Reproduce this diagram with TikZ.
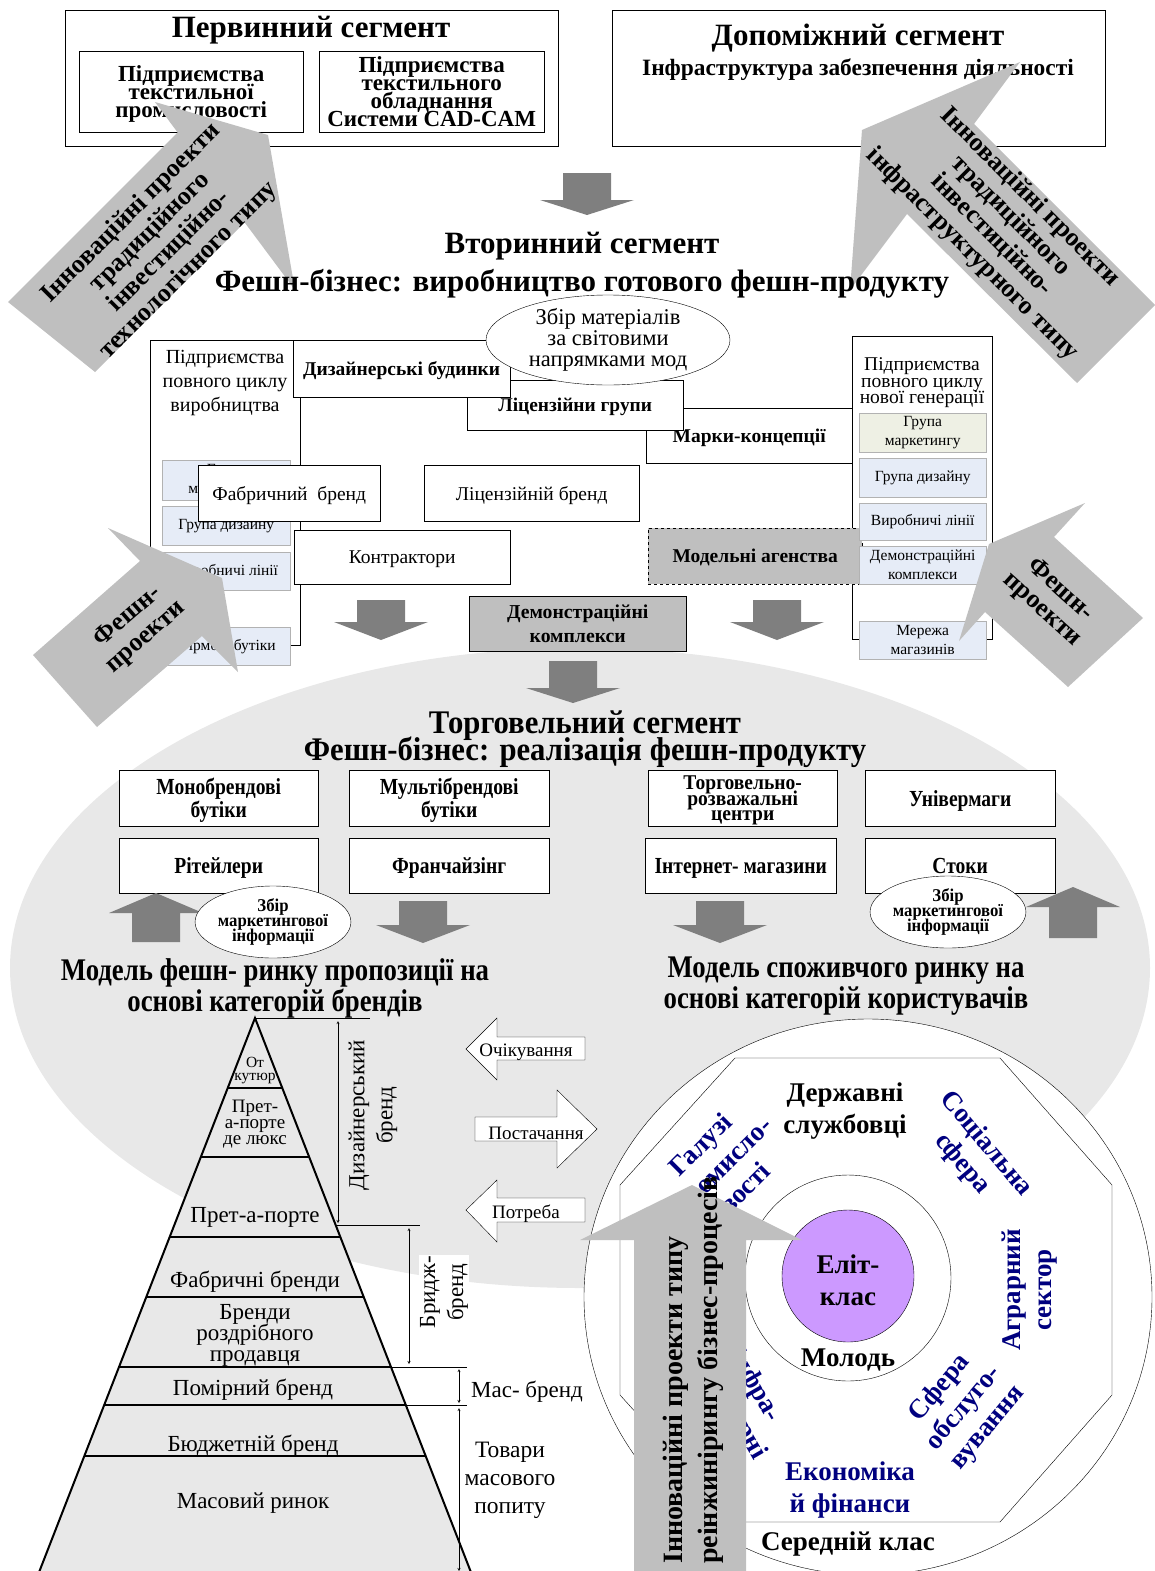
\documentclass[tikz,border=0pt]{standalone}
\usepackage{fontspec}
\setmainfont{Liberation Serif}
\newfontfamily\condfont[FakeStretch=0.85]{Liberation Serif}
\newfontfamily\condtitle[FakeStretch=0.93]{Liberation Serif}
\usetikzlibrary{shapes.geometric}
\definecolor{darkgr}{HTML}{7F7F7F}
\definecolor{lgr}{HTML}{BFBFBF}
\definecolor{bgell}{HTML}{E8E8E8}
\definecolor{pyrgr}{HTML}{E8E8E8}
\definecolor{demogr}{HTML}{BFBFBF}
\definecolor{lblue}{HTML}{E6ECF7}
\definecolor{lolive}{HTML}{EEF0E4}
\definecolor{elite}{HTML}{CC99FF}
\definecolor{navyblue}{HTML}{00007F}
\newcommand\fs[2]{\fontsize{#1}{#2}\selectfont\lineskiplimit=-50pt\relax}
% block arrow: centre x, start of body, head base, tip
\newcommand\blockarr[4]{\fill[darkgr] (#1-24,#2) -- (#1+24,#2) -- (#1+24,#3) -- (#1+47,#3) -- (#1,#4) -- (#1-47,#3) -- (#1-24,#3) -- cycle;}

\begin{document}
\begin{tikzpicture}[x=1pt,y=-1pt,>=stealth,
    box/.style={draw,fill=white,align=center,inner sep=1pt,anchor=north west,text depth=0pt},
    bluebox/.style={draw=gray!60,fill=lblue,align=center,inner sep=1pt,anchor=north west,minimum width=127pt,font=\fs{15.5}{19}},
    tradebox/.style={box,font=\condfont\bfseries\fs{23}{23}},
    bigtxt/.style={font=\bfseries\fs{26}{27},align=center},
    navytxt/.style={text=navyblue,font=\bfseries\fs{27}{31},align=center},
    pyrtxt/.style={font=\fs{23}{21},align=center}]
  \useasboundingbox (0,0) rectangle (1155,1571);
  % background of the trade segment
  \fill[bgell] (580,968) ellipse[x radius=570pt,y radius=320pt];

  % primary and auxiliary segments
  \node[box,minimum width=493pt,minimum height=136pt] (prim) at (65,10) {};
  \node[font=\bfseries\fs{31}{32}] (primt) at (311,30) {Первинний сегмент};
  \node[box,minimum width=224pt,minimum height=81pt,font=\bfseries\fs{23}{18}] (textind) at (79,51) {Підприємства\\текстильної\\промисловості};
  \node[box,minimum width=225pt,minimum height=81pt,font=\bfseries\fs{23}{18}] (textequip) at (319,51) {Підприємства\\текстильного\\обладнання\\Системи CAD-CAM};
  \node[box,minimum width=493pt,minimum height=136pt] (aux) at (612,10) {};
  \node[font=\bfseries\fs{31}{32}] (auxt) at (858,38) {Допоміжний сегмент};
  \node[font=\bfseries\fs{23.4}{24}] (auxs) at (858,70) {Інфраструктура забезпечення діяльності};

  % innovation arrows
  \fill[lgr] (155,102) -- (268,135) -- (295,290) -- (244.6,222.4) -- (95,372) -- (8,302) -- (177.6,132.4) -- cycle;
  \node[bigtxt,rotate=45] (innotech) at (160,242) {Інноваційні проекти\\традиційного\\інвестиційно-\\технологічного типу};
  \fill[lgr] (1020,62) -- (862,130) -- (850,290) -- (907,214) -- (1077,383) -- (1155,305) -- (974,124) -- cycle;
  \node[bigtxt,rotate=-45] (innoinfra) at (1001,226) {Інноваційні проекти\\традиційного\\інвестиційно-\\інфраструктурного типу};

  \blockarr{587}{173}{200}{215}
  \node[font=\bfseries\fs{31}{30}] (sect2) at (582,246) {Вторинний сегмент};
  \node[font=\bfseries\fs{31}{32}] (sect2s) at (582,284) {Фешн-бізнес: виробництво готового фешн-продукту};

  % secondary segment
  \node[draw,minimum width=150pt,minimum height=305pt,anchor=north west] (fullcyc) at (150,340) {};
  \node[font=\fs{20}{24},align=center] (fullcyct) at (225,383) {Підприємства\\повного циклу\\виробництва};
  \node[bluebox,minimum width=128pt,minimum height=40pt] (lmark) at (162,460) {Група\\маркетингу};
  \node[bluebox,minimum width=128pt,minimum height=39pt] (ldes) at (162,506) {Група дизайну};
  \node[bluebox,minimum width=128pt,minimum height=38pt] (lprod) at (162,552) {Виробничі лінії};
  \node[bluebox,minimum width=128pt,minimum height=38pt] (lshop) at (162,627) {Фірмові бутіки};

  \node[box,minimum width=206pt,minimum height=55pt,font=\bfseries\fs{19.5}{21}] (concept) at (646,408) {Марки-концепції};
  \node[box,minimum width=216pt,minimum height=50pt,font=\bfseries\fs{19.4}{20}] (licgrp) at (467,380) {Ліцензійни групи};
  \node[box,minimum width=217pt,minimum height=57pt,font=\bfseries\fs{19.5}{20}] (dhouse) at (293,340) {Дизайнерські будинки};
  \node[draw,fill=white,ellipse,inner sep=0pt,minimum width=244pt,minimum height=90pt,align=center,font=\fs{22.5}{21}] (trends) at (608,340) {Збір матеріалів\\за світовими\\напрямками мод};

  \node[draw,fill=white,minimum width=140pt,minimum height=303pt,anchor=north west] (newgen) at (852,336) {};
  \node[font=\fs{19.5}{16.5},align=center] (newgent) at (922,383) {Підприємства\\повного циклу\\нової генерації};
  \node[box,dashed,fill=demogr,minimum width=214pt,minimum height=56pt,font=\bfseries\fs{19.5}{20}] (models) at (648,528) {Модельні агенства};
  \node[bluebox,fill=lolive,minimum height=39pt] (rmark) at (859,413) {Група\\маркетингу};
  \node[bluebox,minimum height=39pt] (rdes) at (859,458) {Група дизайну};
  \node[bluebox,minimum height=37pt] (rprod) at (859,503) {Виробничі лінії};
  \node[bluebox,minimum height=38pt] (rdemo) at (859,546) {Демонстраційні\\комплекси};
  \node[bluebox,minimum height=38pt] (rshops) at (859,621) {Мережа\\магазинів};

  \node[box,minimum width=182pt,minimum height=56pt,font=\fs{19.5}{21}] (factbr) at (198,465) {Фабричний~ бренд};
  \node[box,minimum width=215pt,minimum height=56pt,font=\fs{19.5}{21}] (licbr) at (424,465) {Ліцензійній бренд};
  \node[box,minimum width=216pt,minimum height=54pt,font=\fs{19.5}{21}] (contr) at (294,530) {Контрактори};
  \node[box,fill=demogr,minimum width=217pt,minimum height=55pt,font=\bfseries\fs{19.7}{24}] (democ) at (469,596) {Демонстраційні\\комплекси};

  \blockarr{381}{600}{622}{640}
  \blockarr{777}{600}{622}{640}
  \blockarr{573}{661}{688}{703}

  % fashion projects
  \fill[lgr] (108,528) -- (222,578) -- (238,672) -- (202,636) -- (97,727) -- (33,655) -- (140,561) -- cycle;
  \node[bigtxt,rotate=41] (fashl) at (137,627) {Фешн-\\проекти};
  \fill[lgr] (1085,503) -- (989,544) -- (959,641) -- (985,612) -- (1068,687) -- (1143,618) -- (1054,537) -- cycle;
  \node[bigtxt,rotate=-42] (fashr) at (1051,600) {Фешн-\\проекти};

  % trade segment
  \node[font=\condtitle\bfseries\fs{33}{27},align=center] (tradet) at (585,739) {Торговельний сегмент\\Фешн-бізнес: реалізація фешн-продукту};
  \node[tradebox,minimum width=199pt,minimum height=56pt] (mono) at (119,770) {Монобрендові\\бутіки};
  \node[tradebox,minimum width=200pt,minimum height=56pt] (multi) at (349,770) {Мультібрендові\\бутіки};
  \node[tradebox,minimum width=189pt,minimum height=56pt,font=\condtitle\bfseries\fs{21}{15.5}] (mall) at (648,770) {Торговельно-\\розважальні\\центри};
  \node[tradebox,minimum width=190pt,minimum height=56pt] (univ) at (865,770) {Універмаги};
  \node[tradebox,minimum width=199pt,minimum height=55pt] (retail) at (119,838) {Рітейлери};
  \node[tradebox,minimum width=200pt,minimum height=55pt] (franch) at (349,838) {Франчайзінг};
  \node[tradebox,minimum width=191pt,minimum height=55pt] (eshop) at (645,838) {Інтернет- магазини};
  \node[tradebox,minimum width=190pt,minimum height=55pt] (stock) at (865,838) {Стоки};

  \blockarr{156}{942}{913}{893}
  \blockarr{423}{901}{925}{943}
  \blockarr{720}{901}{925}{943}
  \blockarr{1073}{938}{907}{887}
  \node[draw,fill=white,ellipse,inner sep=0pt,minimum width=150pt,minimum height=72pt,align=center,font=\condtitle\bfseries\fs{18}{15}] (mkinfl) at (273,922) {Збір\\маркетингової\\інформації};
  \node[draw,fill=white,ellipse,inner sep=0pt,minimum width=150pt,minimum height=72pt,align=center,font=\condtitle\bfseries\fs{18}{15}] (mkinfr) at (948,912) {Збір\\маркетингової\\інформації};
  \node[font=\condfont\bfseries\fs{31.5}{31},align=center] (supplym) at (275,988.5) {Модель фешн- ринку пропозиції на\\основі категорій брендів};
  \node[font=\condfont\bfseries\fs{31.5}{31},align=center] (demandm) at (846,986.5) {Модель споживчого ринку на\\основі категорій користувачів};

  % brand pyramid
  \filldraw[fill=pyrgr,line width=2pt] (255,1018) coordinate (apex) -- (474,1580) -- (36,1580) -- cycle;
  \foreach \yy in {1088,1157,1237,1297,1367,1405,1456}
    \draw[line width=2pt] ({255-0.3888*(\yy-1018)},\yy) -- ({255+0.3888*(\yy-1018)},\yy);
  \node[font=\fs{15.5}{13},align=center] (haute) at (255,1071) {От\\кутюр};
  \node[font=\fs{19}{16},align=center] (deluxe) at (255,1124) {Прет-\\а-порте\\де люкс};
  \node[pyrtxt] (pret) at (255,1217) {Прет-а-порте};
  \node[pyrtxt] (factory) at (255,1282) {Фабричні бренди};
  \node[pyrtxt] (retailbr) at (255,1335) {Бренди\\роздрібного\\продавця};
  \node[pyrtxt] (moder) at (253,1390) {Помірний бренд};
  \node[pyrtxt] (budget) at (253,1446) {Бюджетній бренд};
  \node[pyrtxt] (massm) at (253,1503) {Масовий ринок};

  \draw (apex) -- (370,1018);
  \draw[<->] (338,1021) -- (338,1223);
  \draw (335,1225) -- (420,1225);
  \draw[<->] (409,1228) -- (409,1364);
  \draw (390,1367) -- (467,1367);
  \draw[<->] (459,1369) -- (459,1403);
  \draw (405,1405) -- (467,1405);
  \draw[<->] (459,1408) -- (459,1571);
  \node[pyrtxt,rotate=90,font=\fs{23}{28}] (designbr) at (373,1115) {Дизайнерський\\бренд};
  \node[pyrtxt,rotate=90,font=\fs{23}{28},fill=white,inner sep=1pt] (bridgebr) at (444,1292) {Бридж-\\бренд};
  \node[pyrtxt] (massbr) at (527,1392) {Мас- бренд};
  \node[pyrtxt,font=\fs{23.5}{28}] (massgoods) at (510,1480) {Товари\\масового\\попиту};

  % exchange arrows
  \draw[fill=white] (466,1049) -- (497,1018) -- (497,1037) -- (585,1037) -- (585,1060) -- (497,1060) -- (497,1080) -- cycle;
  \node[font=\fs{19}{19}] (expect) at (526,1052) {Очікування};
  \draw[fill=white] (597,1129) -- (557,1090) -- (557,1117) -- (475,1117) -- (475,1141) -- (557,1141) -- (557,1168) -- cycle;
  \node[font=\fs{19}{19}] (supplyt) at (536,1133) {Постачання};
  \draw[fill=white] (466,1210) -- (497,1180) -- (497,1198) -- (585,1198) -- (585,1222) -- (497,1222) -- (497,1242) -- cycle;
  \node[font=\fs{19}{19}] (needt) at (526,1214) {Потреба};

  % consumer market
  \draw[fill=white] (868,1297) ellipse[x radius=284pt,y radius=278pt];
  \draw (735,1058) -- (1000,1058) -- (1112,1185) -- (1112,1395) -- (1000,1522) -- (735,1522) -- (620,1395) -- (620,1185) -- cycle;
  \draw[fill=white] (848,1278) circle[radius=103pt];
  \draw[fill=elite] (848,1276) circle[radius=66pt];
  \node[font=\bfseries\fs{27}{32},align=center] (elitet) at (848,1280) {Еліт-\\клас};
  \node[font=\bfseries\fs{27}{27}] (youth) at (848,1360) {Молодь};
  \node[font=\bfseries\fs{27}{32},align=center] (civil) at (845,1111) {Державні\\службовці};
  \node[navytxt,rotate=-50] (social) at (974,1154) {Соціальна\\сфера};
  \node[navytxt,rotate=90] (agro) at (1030,1290) {Аграрний\\сектор};
  \node[navytxt,rotate=50] (service) at (964,1408) {Сфера\\обслуго-\\вування};
  \node[navytxt,font=\bfseries\fs{27}{32}] (econ) at (850,1490) {Економіка\\й фінанси};
  \node[font=\bfseries\fs{27}{27}] (midcl) at (848,1544) {Середній клас};
  \node[navytxt,rotate=45] (industry) at (722,1166) {Галузі\\промисло-\\вості};
  \node[navytxt,rotate=-60] (infra) at (740,1392) {Інфра-\\структурні};

  \fill[lgr] (634,1580) -- (634,1240) -- (580,1240) -- (692,1185) -- (802,1240) -- (746,1240) -- (746,1580) -- cycle;
  \node[font=\bfseries\fs{28}{35},rotate=90,anchor=west,align=left,inner sep=0pt] (reeng) at (693,1564) {Інноваційні проекти типу\\реінжинірингу бізнес-процесів};
\end{tikzpicture}
\end{document}
